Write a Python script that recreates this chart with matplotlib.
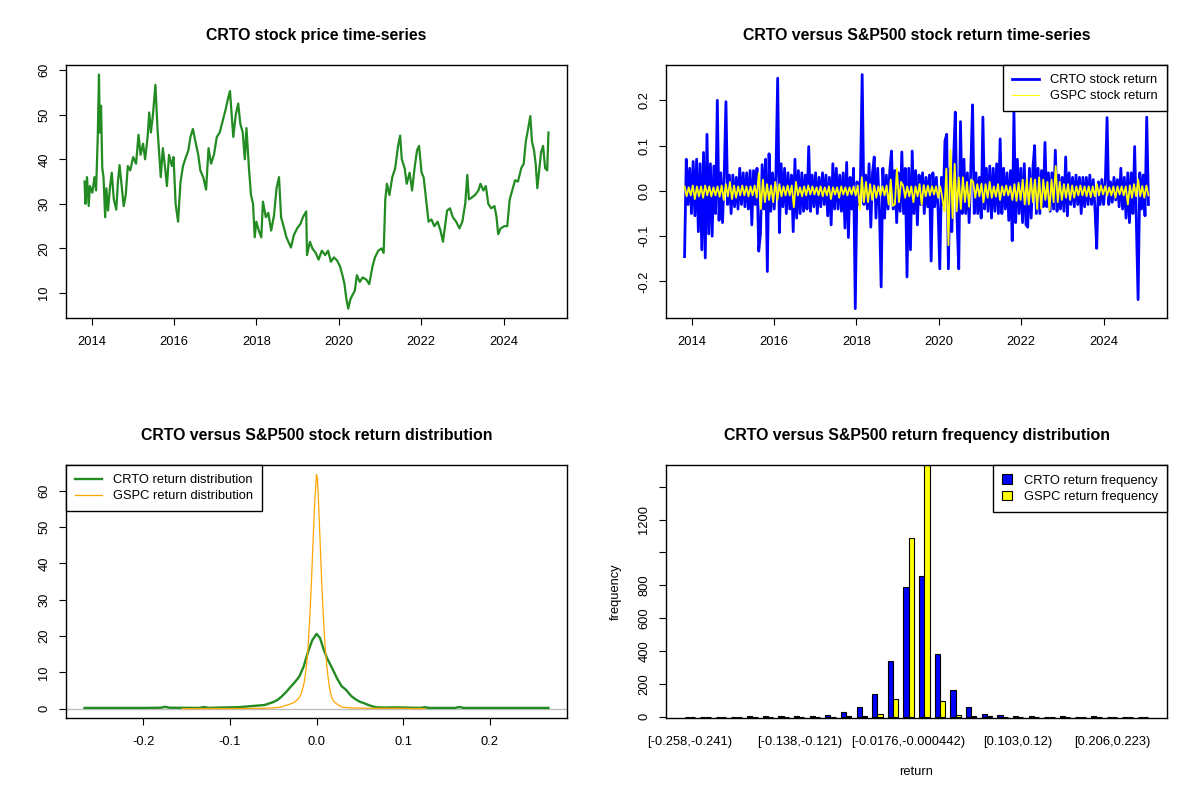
import matplotlib
matplotlib.use("Agg")
import matplotlib.pyplot as plt
import numpy as np

plt.rcParams["font.family"] = ["Liberation Sans", "DejaVu Sans"]
plt.rcParams["axes.unicode_minus"] = False

# ---------------------------------------------------------------------------
# Data (approximate)
# ---------------------------------------------------------------------------
price_years = [
    2013.83, 2013.85, 2013.89, 2013.93, 2013.96, 2014.02, 2014.07, 2014.11, 2014.15, 2014.18,
    2014.20, 2014.23, 2014.26, 2014.29, 2014.33, 2014.36, 2014.40, 2014.45, 2014.49, 2014.54,
    2014.60, 2014.64, 2014.68, 2014.73, 2014.78, 2014.83, 2014.88, 2014.94, 2015.01, 2015.08,
    2015.14, 2015.19, 2015.25, 2015.30, 2015.36, 2015.40, 2015.44, 2015.49, 2015.55, 2015.60,
    2015.65, 2015.68, 2015.73, 2015.78, 2015.83, 2015.88, 2015.95, 2015.99, 2016.04, 2016.10,
    2016.16, 2016.22, 2016.29, 2016.35, 2016.40, 2016.46, 2016.52, 2016.59, 2016.64, 2016.71,
    2016.78, 2016.84, 2016.90, 2016.97, 2017.04, 2017.11, 2017.18, 2017.25, 2017.31, 2017.36,
    2017.41, 2017.44, 2017.50, 2017.56, 2017.61, 2017.67, 2017.72, 2017.76, 2017.82, 2017.87,
    2017.92, 2017.96, 2018.00, 2018.06, 2018.12, 2018.16, 2018.23, 2018.29, 2018.36, 2018.43,
    2018.49, 2018.55, 2018.60, 2018.66, 2018.73, 2018.80, 2018.84, 2018.91, 2018.99, 2019.07,
    2019.13, 2019.21, 2019.23, 2019.30, 2019.36, 2019.44, 2019.51, 2019.59, 2019.67, 2019.74,
    2019.81, 2019.88, 2019.96, 2020.03, 2020.09, 2020.14, 2020.18, 2020.23, 2020.28, 2020.33,
    2020.39, 2020.44, 2020.51, 2020.58, 2020.67, 2020.74, 2020.82, 2020.88, 2020.96, 2021.04,
    2021.09, 2021.13, 2021.17, 2021.23, 2021.30, 2021.37, 2021.44, 2021.49, 2021.53, 2021.60,
    2021.65, 2021.72, 2021.78, 2021.84, 2021.90, 2021.95, 2022.01, 2022.06, 2022.12, 2022.18,
    2022.25, 2022.32, 2022.40, 2022.47, 2022.53, 2022.58, 2022.63, 2022.70, 2022.77, 2022.85,
    2022.93, 2023.00, 2023.07, 2023.12, 2023.16, 2023.24, 2023.31, 2023.39, 2023.44, 2023.51,
    2023.57, 2023.63, 2023.70, 2023.78, 2023.83, 2023.87, 2023.93, 2024.02, 2024.09, 2024.15,
    2024.21, 2024.28, 2024.35, 2024.43, 2024.49, 2024.54, 2024.60, 2024.65, 2024.69, 2024.74,
    2024.78, 2024.82, 2024.86, 2024.91, 2024.96, 2025.01, 2025.06, 2025.09,
]
crto_price = [
    35.0, 30.0, 36.0, 29.5, 34.0, 32.5, 36.0, 33.0, 45.0, 59.0,
    46.0, 52.0, 38.0, 36.0, 27.0, 33.5, 28.5, 34.0, 37.0, 31.0,
    28.7, 35.0, 38.7, 34.0, 29.5, 32.0, 38.5, 37.5, 40.5, 39.0,
    45.5, 41.0, 43.5, 40.0, 45.0, 50.5, 46.0, 50.0, 56.7, 47.0,
    40.0, 36.0, 42.5, 38.5, 34.0, 41.0, 38.5, 40.5, 30.0, 26.0,
    35.0, 38.5, 40.5, 42.0, 45.0, 46.8, 44.0, 41.0, 37.5, 36.0,
    33.2, 42.5, 39.0, 41.0, 45.0, 46.0, 48.5, 51.0, 53.5, 55.3,
    49.0, 45.0, 50.0, 52.5, 48.0, 46.0, 40.0, 47.0, 38.0, 32.0,
    30.0, 22.5, 26.0, 24.0, 22.5, 30.5, 27.0, 28.0, 24.0, 27.5,
    33.5, 36.0, 27.0, 25.0, 22.5, 21.0, 20.2, 23.0, 24.5, 25.5,
    27.0, 28.3, 18.5, 21.5, 20.0, 19.0, 17.5, 19.5, 18.5, 19.5,
    17.0, 18.0, 17.3, 16.0, 14.0, 12.0, 9.0, 6.5, 8.5, 9.5,
    10.5, 14.0, 12.5, 13.5, 13.0, 12.0, 16.0, 18.0, 19.5, 20.0,
    19.0, 31.0, 34.5, 32.0, 36.0, 38.0, 43.0, 45.3, 40.0, 38.0,
    34.5, 37.0, 33.0, 38.0, 42.0, 43.0, 37.0, 36.0, 31.0, 26.0,
    26.5, 25.0, 26.0, 24.0, 21.5, 25.0, 28.5, 29.0, 27.0, 26.0,
    24.5, 26.0, 30.0, 36.5, 31.0, 31.5, 32.0, 33.0, 34.5, 33.0,
    34.0, 30.0, 29.0, 29.5, 27.0, 23.2, 24.5, 25.0, 25.0, 31.0,
    33.0, 35.3, 35.0, 38.0, 39.0, 44.0, 47.0, 49.7, 44.0, 42.0,
    39.0, 33.5, 37.0, 41.5, 43.0, 38.0, 37.5, 46.0,
]

# daily-return series, sampled evenly between these dates
ret_first_year = 2013.83
ret_last_year = 2025.09
crto_return = [
    -0.145, 0.07, -0.03, 0.05, -0.05, 0.065, -0.055, 0.07, -0.09, 0.06, -0.13, 0.085,
    -0.148, 0.125, -0.095, 0.06, -0.10, 0.055, -0.05, 0.20, -0.065, 0.04, -0.07, 0.035,
    0.197, -0.03, 0.035, -0.05, 0.035, -0.035, 0.03, -0.04, 0.05, -0.03, 0.04, -0.035,
    0.04, -0.04, 0.045, -0.075, 0.045, -0.03, 0.05, -0.133, -0.095, 0.058, -0.04, 0.07,
    -0.178, 0.082, -0.045, 0.04, -0.04, 0.04, 0.249, -0.092, 0.06, -0.035, 0.05, -0.05,
    0.04, -0.04, 0.035, -0.09, 0.07, -0.06, 0.045, -0.05, 0.04, -0.045, 0.035, -0.04,
    0.098, -0.045, 0.035, -0.035, 0.04, -0.05, 0.03, -0.035, 0.04, -0.03, 0.035, -0.055,
    0.03, -0.075, 0.06, -0.04, 0.05, -0.04, 0.035, -0.045, 0.04, -0.082, 0.063, -0.103,
    0.03, -0.04, 0.05, -0.26, 0.02, -0.03, 0.03, 0.257, -0.03, 0.035, -0.04, 0.06,
    -0.08, 0.04, 0.075, -0.06, 0.05, -0.04, -0.212, 0.05, -0.06, 0.035, -0.04, 0.045,
    0.088, -0.04, 0.045, -0.07, 0.04, -0.045, 0.086, -0.05, 0.05, -0.19, 0.05, -0.13,
    0.088, -0.05, 0.045, -0.075, 0.035, -0.03, 0.04, -0.05, 0.03, -0.035, 0.035, -0.155,
    0.04, -0.035, 0.03, -0.04, -0.172, 0.03, -0.03, 0.11, 0.125, -0.172, 0.05, -0.09,
    0.07, 0.174, -0.06, -0.172, 0.153, -0.05, 0.07, -0.05, 0.04, -0.07, 0.05, 0.19,
    -0.05, 0.04, -0.05, 0.03, -0.06, 0.163, -0.04, 0.05, -0.045, 0.055, -0.06, 0.05,
    -0.045, 0.06, -0.05, 0.115, -0.05, 0.05, -0.04, 0.04, -0.065, 0.045, -0.11, 0.175,
    -0.07, 0.07, -0.05, 0.05, -0.07, 0.06, -0.075, -0.08, 0.05, -0.06, 0.05, 0.10,
    -0.05, 0.05, -0.05, 0.045, -0.035, 0.107, -0.035, 0.04, -0.045, 0.04, -0.04, 0.09,
    -0.045, 0.035, -0.04, 0.03, -0.045, 0.075, -0.055, 0.04, -0.03, 0.03, -0.035, 0.035,
    -0.03, 0.03, -0.05, 0.03, -0.035, 0.03, -0.03, 0.035, -0.03, 0.025, -0.04, -0.127,
    0.02, -0.03, 0.025, -0.03, 0.02, 0.162, -0.03, 0.02, -0.025, 0.03, -0.02, 0.025,
    -0.035, 0.05, -0.04, 0.03, -0.06, 0.04, -0.07, 0.04, -0.05, 0.098, -0.075, -0.24,
    0.04, -0.04, 0.035, -0.055, 0.163, -0.03,
]
gspc_return = [
    0.010, -0.012, 0.008, -0.010, 0.012, -0.018, 0.010, -0.012, 0.010, -0.015,
    0.012, -0.010, 0.010, -0.012, 0.008, -0.010, 0.010, -0.013, 0.012, -0.020,
    0.015, -0.012, 0.020, -0.018, 0.012, -0.015, 0.010, -0.010, 0.012, -0.010,
    0.010, -0.012, 0.010, -0.010, 0.012, -0.015, 0.039, -0.040, 0.025, -0.025,
    0.015, -0.020, 0.012, -0.025, 0.020, -0.020, 0.015, -0.012, 0.010, -0.010,
    0.012, -0.010, 0.012, -0.036, 0.020, -0.010, 0.008, -0.012, 0.010, -0.010,
    0.012, -0.008, 0.010, -0.008, 0.008, -0.010, 0.010, -0.012, 0.008, -0.010,
    0.010, -0.018, 0.008, -0.008, 0.008, -0.015, 0.010, -0.008, 0.008, -0.010,
    0.008, -0.008, 0.010, -0.010, 0.012, -0.041, 0.030, -0.025, 0.020, -0.025,
    0.015, -0.020, 0.012, -0.015, 0.010, -0.010, 0.010, -0.010, 0.012, -0.030,
    0.025, -0.033, -0.030, 0.050, -0.025, 0.020, 0.012, -0.015, 0.010, -0.012,
    0.010, -0.025, 0.010, -0.012, 0.015, -0.030, 0.013, -0.012, 0.012, -0.010,
    0.010, -0.008, 0.010, -0.015, 0.010, -0.015, -0.045, 0.049, -0.120, 0.090,
    -0.060, 0.060, -0.045, 0.030, -0.040, 0.030, -0.025, 0.020, -0.035, 0.025,
    0.020, -0.015, 0.015, -0.012, 0.016, -0.025, 0.015, -0.015, 0.020, -0.015,
    0.010, -0.013, 0.015, -0.020, 0.010, -0.010, 0.012, -0.010, 0.010, -0.020,
    0.015, -0.022, 0.018, -0.020, 0.025, -0.030, 0.025, -0.030, 0.028, -0.025,
    0.025, -0.040, 0.030, -0.040, 0.025, -0.020, 0.020, -0.043, 0.025, -0.025,
    0.055, -0.025, 0.020, -0.020, 0.015, -0.015, 0.015, -0.020, 0.012, -0.015,
    0.010, -0.010, 0.012, -0.010, 0.010, -0.012, 0.010, -0.014, 0.010, -0.012,
    0.015, -0.010, 0.012, -0.008, 0.010, -0.010, 0.008, -0.010, 0.010, -0.015,
    0.010, -0.008, 0.010, -0.010, 0.010, -0.030, 0.012, -0.015, 0.015, -0.012,
    0.025, -0.012, 0.011, -0.015, 0.012, -0.010,
]

# kernel density estimates
dens_crto_x = [
    -0.268, -0.20, -0.18, -0.175, -0.17, -0.135, -0.13, -0.125, -0.11, -0.10,
    -0.09, -0.08, -0.07, -0.06, -0.055, -0.05, -0.045, -0.04, -0.035, -0.03,
    -0.025, -0.02, -0.015, -0.01, -0.005, 0.0, 0.004, 0.008, 0.012, 0.018,
    0.024, 0.029, 0.034, 0.04, 0.045, 0.05, 0.055, 0.06, 0.065, 0.07,
    0.08, 0.09, 0.10, 0.12, 0.125, 0.13, 0.16, 0.165, 0.17, 0.268,
]
dens_crto_y = [
    0.2, 0.2, 0.25, 0.5, 0.25, 0.2, 0.45, 0.2, 0.3, 0.35,
    0.4, 0.6, 0.8, 1.0, 1.4, 1.8, 2.4, 3.4, 4.6, 6.0,
    7.3, 8.8, 11.5, 15.5, 18.8, 20.6, 19.5, 16.5, 14.0, 11.2,
    8.2, 6.2, 5.2, 3.5, 2.6, 1.9, 1.5, 1.0, 0.6, 0.35,
    0.3, 0.35, 0.3, 0.2, 0.4, 0.2, 0.2, 0.45, 0.2, 0.2,
]
dens_gspc_x = [
    -0.155, -0.12, -0.10, -0.08, -0.06, -0.05, -0.045, -0.04, -0.035, -0.03,
    -0.025, -0.02, -0.017, -0.014, -0.012, -0.01, -0.008, -0.006, -0.004, -0.002,
    0.0, 0.001, 0.002, 0.004, 0.006, 0.008, 0.01, 0.012, 0.014, 0.016,
    0.018, 0.02, 0.025, 0.03, 0.04, 0.05, 0.06, 0.09, 0.125,
]
dens_gspc_y = [
    0.0, 0.03, 0.02, 0.05, 0.1, 0.2, 0.35, 0.5, 0.9, 1.3,
    1.8, 3.0, 4.5, 7.5, 11.0, 16.0, 24.0, 34.0, 46.0, 57.0,
    64.5, 63.5, 59.0, 47.0, 35.0, 25.0, 17.0, 11.5, 7.5, 4.5,
    2.8, 2.0, 1.0, 0.4, 0.2, 0.15, 0.1, 0.1, 0.0,
]

# return frequency table (30 bins from -0.258 to 0.258)
crto_freq = [1, 0, 0, 0, 3, 3, 3, 3, 3, 12, 26, 57, 136, 337, 791,
             854, 379, 160, 57, 18, 12, 4, 3, 0, 3, 0, 3, 0, 0, 1]
gspc_freq = [0, 0, 0, 0, 0, 0, 0, 0, 1, 1, 2, 5, 18, 105, 1085,
             1531, 98, 8, 4, 2, 1, 0, 0, 0, 0, 0, 0, 0, 0, 0]
bin_label_idx = [0, 7, 14, 21, 27]
bin_label_text = ["[-0.258,-0.241)", "[-0.138,-0.121)", "[-0.0176,-0.000442)",
                  "[0.103,0.12)", "[0.206,0.223)"]

year_ticks = [2014, 2016, 2018, 2020, 2022, 2024]
price_ticks = [10, 20, 30, 40, 50, 60]
return_ticks = [-0.2, -0.1, 0.0, 0.1, 0.2]
return_labels = ["-0.2", "-0.1", "0.0", "0.1", "0.2"]
dens_ticks = [0, 10, 20, 30, 40, 50, 60]
freq_ticks = [0, 200, 400, 600, 800, 1000, 1200, 1400]
freq_labels = ["0", "200", "400", "600", "800", "", "1200", ""]

# ---------------------------------------------------------------------------
TICK_FS = 9.3
TITLE_FS = 11.4


def r_axes(ax):
    for s in ax.spines.values():
        s.set_linewidth(1.0)
        s.set_color("black")
    ax.tick_params(direction="out", length=5.2, width=0.8, labelsize=TICK_FS,
                   top=False, right=False)
    ax.tick_params(axis="x", pad=8)
    ax.tick_params(axis="y", pad=6)
    ax.margins(x=0.04, y=0.04)


def rotate_y(ax):
    for lbl in ax.get_yticklabels():
        lbl.set_rotation(90)
        lbl.set_va("center")


def r_legend(ax, handles, labels, loc):
    leg = ax.legend(handles, labels, loc=loc, fontsize=TICK_FS, frameon=True,
                    fancybox=False, framealpha=1, edgecolor="black",
                    borderaxespad=0, borderpad=0.7, handlelength=2.1,
                    handletextpad=0.85, labelspacing=0.3)
    leg.get_frame().set_linewidth(1.0)
    return leg


fig = plt.figure(figsize=(12, 8), dpi=100)
W, H = 0.4175, 0.316
ax1 = fig.add_axes([0.055, 0.6025, W, H])
ax2 = fig.add_axes([0.555, 0.6025, W, H])
ax3 = fig.add_axes([0.055, 0.1025, W, H])
ax4 = fig.add_axes([0.555, 0.1025, W, H])

# --- 1. price time series ---
ax1.plot(price_years, crto_price, color="forestgreen", lw=1.6)
r_axes(ax1)
ax1.set_xticks(year_ticks)
ax1.set_xticklabels([str(y) for y in year_ticks])
ax1.set_yticks(price_ticks)
ax1.set_yticklabels([str(v) for v in price_ticks])
rotate_y(ax1)
ax1.set_title("CRTO stock price time-series", fontsize=TITLE_FS,
              fontweight="bold", pad=18)

# --- 2. returns time series ---
crto_t = np.linspace(ret_first_year, ret_last_year, len(crto_return))
gspc_t = np.linspace(ret_first_year, ret_last_year, len(gspc_return))
l_crto, = ax2.plot(crto_t, crto_return, color="blue", lw=2.0)
l_gspc, = ax2.plot(gspc_t, gspc_return, color="yellow", lw=1.3)
r_axes(ax2)
ax2.set_xticks(year_ticks)
ax2.set_xticklabels([str(y) for y in year_ticks])
ax2.set_yticks(return_ticks)
ax2.set_yticklabels(return_labels)
rotate_y(ax2)
ax2.set_title("CRTO versus S&P500 stock return time-series", fontsize=TITLE_FS,
              fontweight="bold", pad=18)
leg2 = r_legend(ax2, [l_crto, l_gspc], ["CRTO stock return", "GSPC stock return"],
                "upper right")
leg2.get_lines()[1].set_linewidth(0.8)

# --- 3. return densities ---
l_dc, = ax3.plot(dens_crto_x, dens_crto_y, color="forestgreen", lw=1.7)
l_dg, = ax3.plot(dens_gspc_x, dens_gspc_y, color="orange", lw=0.9)
ax3.axhline(0, color="#bebebe", lw=1.0, zorder=0)
r_axes(ax3)
ax3.set_xticks(return_ticks)
ax3.set_xticklabels(return_labels)
ax3.set_yticks(dens_ticks)
ax3.set_yticklabels([str(v) for v in dens_ticks])
rotate_y(ax3)
ax3.set_title("CRTO versus S&P500 stock return distribution", fontsize=TITLE_FS,
              fontweight="bold", pad=18)
r_legend(ax3, [l_dc, l_dg], ["CRTO return distribution", "GSPC return distribution"],
         "upper left")

# --- 4. frequency bar chart (side by side) ---
groups = np.arange(len(crto_freq))
left_pos = 1 + 3 * groups
b1 = ax4.bar(left_pos + 0.5, crto_freq, width=1.0, color="blue",
             edgecolor="black", linewidth=0.8)
b2 = ax4.bar(left_pos + 1.5, gspc_freq, width=1.0, color="yellow",
             edgecolor="black", linewidth=0.8)
for s in ax4.spines.values():
    s.set_linewidth(1.0)
    s.set_color("black")
span = left_pos[-1] + 2 - left_pos[0]
ax4.set_xlim(left_pos[0] - 0.04 * span, left_pos[-1] + 2 + 0.04 * span)
ax4.set_ylim(-8, max(gspc_freq))
ax4.set_xticks([left_pos[i] + 1 for i in bin_label_idx])
ax4.set_xticklabels(bin_label_text)
ax4.tick_params(axis="x", length=0, labelsize=TICK_FS, pad=13)
ax4.tick_params(axis="y", direction="out", length=5.2, width=0.8,
                labelsize=TICK_FS, pad=6)
ax4.set_yticks(freq_ticks)
ax4.set_yticklabels(freq_labels)
rotate_y(ax4)
ax4.set_xlabel("return", fontsize=TICK_FS, labelpad=13)
ax4.set_ylabel("frequency", fontsize=TICK_FS, labelpad=12)
ax4.set_title("CRTO versus S&P500 return frequency distribution", fontsize=TITLE_FS,
              fontweight="bold", pad=18)
leg = ax4.legend([b1, b2], ["CRTO return frequency", "GSPC return frequency"],
                 loc="upper right", fontsize=TICK_FS, frameon=True, fancybox=False,
                 framealpha=1, edgecolor="black", borderaxespad=0, borderpad=0.7,
                 handlelength=0.8, handleheight=0.8, handletextpad=0.9,
                 labelspacing=0.3)
leg.get_frame().set_linewidth(1.0)

fig.savefig("out.png", dpi=100, facecolor="white")
